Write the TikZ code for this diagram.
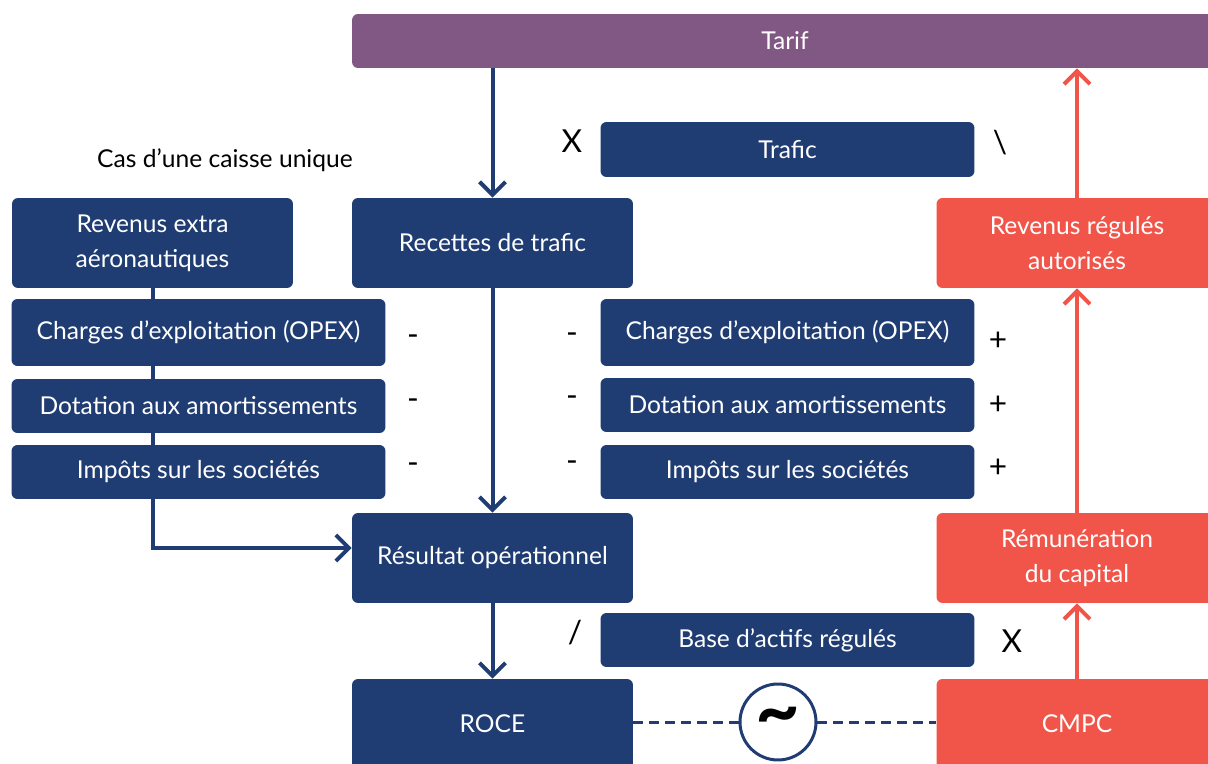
\documentclass[tikz,border=0pt]{standalone}
\usepackage{fontspec}
\setmainfont{Lato}
\usetikzlibrary{arrows.meta,calc,backgrounds}
\definecolor{navy}{HTML}{203D73}
\definecolor{coral}{HTML}{F15549}
\definecolor{plum}{HTML}{815783}
\tikzset{
  box/.style={fill=navy, text=white, rounded corners=0.12cm, align=center, inner sep=0pt,
    font=\fontsize{14}{20}\selectfont},
  big/.style={box, minimum width=5.62cm, minimum height=1.8cm},
  bar/.style={box, minimum width=7.48cm, minimum height=1.08cm},
  redbox/.style={big, fill=coral},
  sign/.style={text=black, inner sep=0pt, font=\fontsize{18}{18}\selectfont},
  flow/.style={line width=0.08cm, draw=navy, -{Straight Barb[length=0.26cm,width=0.52cm]}},
  link/.style={line width=0.06cm, draw=navy, dash pattern=on 0.2cm off 0.12cm},
}
\begin{document}
\begin{tikzpicture}[x=0.02cm,y=-0.02cm]
\clip (0,0) rectangle (1208,764);
\begin{scope}[on background layer]
\fill[white] (0,0) rectangle (1208,764);
\end{scope}
% top row
\node[box, fill=plum, minimum width=17.32cm, minimum height=1.08cm] (tarif) at (785,41) {Tarif};
\node[bar, minimum height=1.1cm] (trafic) at (787.5,149.5) {Trafic};
\node[sign] (times1) at (572,141) {X};
\node[sign] (div1) at (1000,143) {\textbackslash};
\node[text=black, font=\fontsize{14}{16}\selectfont] (cas) at (225,160) {Cas d’une caisse unique};
% revenues
\node[big] (revextra) at (152.5,243) {Revenus extra\\aéronautiques};
\node[big] (recettes) at (492.5,243) {Recettes de trafic};
\node[redbox] (revreg) at (1077,243) {Revenus régulés\\autorisés};
% charges, left
\node[bar, minimum height=1.34cm] (opexl) at (198.5,332.5) {Charges d’exploitation (OPEX)};
\node[bar] (amortl) at (198.5,406) {Dotation aux amortissements};
\node[bar] (impotl) at (198.5,472) {Impôts sur les sociétés};
% charges, right
\node[bar, minimum height=1.34cm] (opexr) at (787.5,332.5) {Charges d’exploitation (OPEX)};
\node[bar] (amortr) at (787.5,405) {Dotation aux amortissements};
\node[bar] (impotr) at (787.5,472) {Impôts sur les sociétés};
% signs
\node[sign] (ml1) at (413,340) {-};
\node[sign] (ml2) at (413,404) {-};
\node[sign] (ml3) at (413,468) {-};
\node[sign] (mm1) at (572,338) {-};
\node[sign] (mm2) at (572,401) {-};
\node[sign] (mm3) at (572,466) {-};
\node[sign] (pr1) at (998,341) {+};
\node[sign] (pr2) at (998,405) {+};
\node[sign] (pr3) at (998,468) {+};
% results
\node[big] (resop) at (492.5,558) {Résultat opérationnel};
\node[redbox] (remun) at (1077,558) {Rémunération\\du capital};
\node[bar] (base) at (787.5,640) {Base d’actifs régulés};
\node[sign] (div2) at (575,633) {/};
\node[sign] (times2) at (1012,641) {X};
\node[big] (roce) at (492.5,724) {ROCE};
\node[redbox] (cmpc) at (1077,724) {CMPC};
\node[circle, draw=navy, line width=0.06cm, fill=white, minimum size=1.52cm, inner sep=0pt] (approx) at (778,722)
  {\fontsize{44}{44}\selectfont\bfseries\textasciitilde};
% arrows
\draw[flow] (tarif.south -| recettes.north) -- (recettes.north);
\draw[flow] (recettes) -- (resop);
\draw[flow] (resop) -- (roce);
\begin{scope}[on background layer]
\draw[flow] (revextra.south) |- ($(resop.west)+(0,-10)$);
\end{scope}
\draw[flow, draw=coral] (cmpc) -- (remun);
\draw[flow, draw=coral] (remun) -- (revreg);
\draw[flow, draw=coral] (revreg.north) -- (revreg.north |- tarif.south);
\draw[link] (roce.east |- approx) -- (approx);
\draw[link] (approx) -- (cmpc.west |- approx);
\end{tikzpicture}
\end{document}
